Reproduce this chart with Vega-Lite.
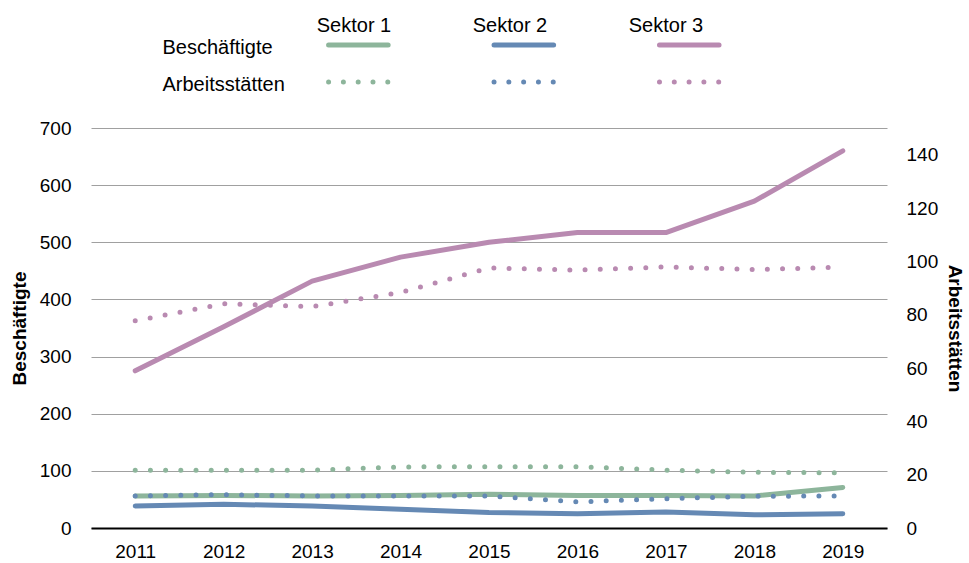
{
  "$schema": "https://vega.github.io/schema/vega-lite/v6.json",
  "padding": {"left": 10, "top": 14.5, "right": 0, "bottom": 1},
  "bounds": "flush",
  "spacing": 27.5,
  "config": {
    "font": "Liberation Sans",
    "view": {"stroke": null},
    "axis": {"labelFont": "Liberation Sans", "titleFont": "Liberation Sans", "labelColor": "#000000", "titleColor": "#000000", "labelFontSize": 19, "titleFontSize": 19}
  },
  "datasets": {
    "main": [
      {"year": "2011", "sektor": "Sektor 1", "measure": "Beschäftigte", "value": 56},
      {"year": "2012", "sektor": "Sektor 1", "measure": "Beschäftigte", "value": 57},
      {"year": "2013", "sektor": "Sektor 1", "measure": "Beschäftigte", "value": 56},
      {"year": "2014", "sektor": "Sektor 1", "measure": "Beschäftigte", "value": 57},
      {"year": "2015", "sektor": "Sektor 1", "measure": "Beschäftigte", "value": 59},
      {"year": "2016", "sektor": "Sektor 1", "measure": "Beschäftigte", "value": 57},
      {"year": "2017", "sektor": "Sektor 1", "measure": "Beschäftigte", "value": 57},
      {"year": "2018", "sektor": "Sektor 1", "measure": "Beschäftigte", "value": 56},
      {"year": "2019", "sektor": "Sektor 1", "measure": "Beschäftigte", "value": 71},
      {"year": "2011", "sektor": "Sektor 2", "measure": "Beschäftigte", "value": 38.5},
      {"year": "2012", "sektor": "Sektor 2", "measure": "Beschäftigte", "value": 41.5},
      {"year": "2013", "sektor": "Sektor 2", "measure": "Beschäftigte", "value": 38.5},
      {"year": "2014", "sektor": "Sektor 2", "measure": "Beschäftigte", "value": 33},
      {"year": "2015", "sektor": "Sektor 2", "measure": "Beschäftigte", "value": 27},
      {"year": "2016", "sektor": "Sektor 2", "measure": "Beschäftigte", "value": 25},
      {"year": "2017", "sektor": "Sektor 2", "measure": "Beschäftigte", "value": 28},
      {"year": "2018", "sektor": "Sektor 2", "measure": "Beschäftigte", "value": 23},
      {"year": "2019", "sektor": "Sektor 2", "measure": "Beschäftigte", "value": 25},
      {"year": "2011", "sektor": "Sektor 3", "measure": "Beschäftigte", "value": 275},
      {"year": "2012", "sektor": "Sektor 3", "measure": "Beschäftigte", "value": 352},
      {"year": "2013", "sektor": "Sektor 3", "measure": "Beschäftigte", "value": 432},
      {"year": "2014", "sektor": "Sektor 3", "measure": "Beschäftigte", "value": 474},
      {"year": "2015", "sektor": "Sektor 3", "measure": "Beschäftigte", "value": 500},
      {"year": "2016", "sektor": "Sektor 3", "measure": "Beschäftigte", "value": 517},
      {"year": "2017", "sektor": "Sektor 3", "measure": "Beschäftigte", "value": 517},
      {"year": "2018", "sektor": "Sektor 3", "measure": "Beschäftigte", "value": 572},
      {"year": "2019", "sektor": "Sektor 3", "measure": "Beschäftigte", "value": 660},
      {"year": "2011", "sektor": "Sektor 1", "measure": "Arbeitsstätten", "value": 21.7},
      {"year": "2012", "sektor": "Sektor 1", "measure": "Arbeitsstätten", "value": 21.7},
      {"year": "2013", "sektor": "Sektor 1", "measure": "Arbeitsstätten", "value": 21.7},
      {"year": "2014", "sektor": "Sektor 1", "measure": "Arbeitsstätten", "value": 22.9},
      {"year": "2015", "sektor": "Sektor 1", "measure": "Arbeitsstätten", "value": 23},
      {"year": "2016", "sektor": "Sektor 1", "measure": "Arbeitsstätten", "value": 23},
      {"year": "2017", "sektor": "Sektor 1", "measure": "Arbeitsstätten", "value": 21.7},
      {"year": "2018", "sektor": "Sektor 1", "measure": "Arbeitsstätten", "value": 20.9},
      {"year": "2019", "sektor": "Sektor 1", "measure": "Arbeitsstätten", "value": 20.7},
      {"year": "2011", "sektor": "Sektor 2", "measure": "Arbeitsstätten", "value": 12},
      {"year": "2012", "sektor": "Sektor 2", "measure": "Arbeitsstätten", "value": 12.5},
      {"year": "2013", "sektor": "Sektor 2", "measure": "Arbeitsstätten", "value": 12},
      {"year": "2014", "sektor": "Sektor 2", "measure": "Arbeitsstätten", "value": 12},
      {"year": "2015", "sektor": "Sektor 2", "measure": "Arbeitsstätten", "value": 12},
      {"year": "2016", "sektor": "Sektor 2", "measure": "Arbeitsstätten", "value": 9.8},
      {"year": "2017", "sektor": "Sektor 2", "measure": "Arbeitsstätten", "value": 11},
      {"year": "2018", "sektor": "Sektor 2", "measure": "Arbeitsstätten", "value": 11.9},
      {"year": "2019", "sektor": "Sektor 2", "measure": "Arbeitsstätten", "value": 12},
      {"year": "2011", "sektor": "Sektor 3", "measure": "Arbeitsstätten", "value": 77.7},
      {"year": "2012", "sektor": "Sektor 3", "measure": "Arbeitsstätten", "value": 84.1},
      {"year": "2013", "sektor": "Sektor 3", "measure": "Arbeitsstätten", "value": 83},
      {"year": "2014", "sektor": "Sektor 3", "measure": "Arbeitsstätten", "value": 88.3},
      {"year": "2015", "sektor": "Sektor 3", "measure": "Arbeitsstätten", "value": 97.5},
      {"year": "2016", "sektor": "Sektor 3", "measure": "Arbeitsstätten", "value": 96.7},
      {"year": "2017", "sektor": "Sektor 3", "measure": "Arbeitsstätten", "value": 97.9},
      {"year": "2018", "sektor": "Sektor 3", "measure": "Arbeitsstätten", "value": 96.9},
      {"year": "2019", "sektor": "Sektor 3", "measure": "Arbeitsstätten", "value": 97.8}
    ],
    "legend": [
      {"sektor": "Sektor 1", "measure": "Beschäftigte"},
      {"sektor": "Sektor 2", "measure": "Beschäftigte"},
      {"sektor": "Sektor 3", "measure": "Beschäftigte"},
      {"sektor": "Sektor 1", "measure": "Arbeitsstätten"},
      {"sektor": "Sektor 2", "measure": "Arbeitsstätten"},
      {"sektor": "Sektor 3", "measure": "Arbeitsstätten"}
    ]
  },
  "vconcat": [
    {
      "width": 681,
      "height": 74,
      "data": {"name": "legend"},
      "layer": [
        {
          "transform": [{"filter": "datum.measure === 'Beschäftigte'"}],
          "mark": {"type": "rule", "strokeWidth": 5, "strokeCap": "round"},
          "encoding": {
            "x": {"field": "sektor", "type": "nominal", "bandPosition": 0.32, "scale": {"type": "band", "domain": ["Sektor 1", "Sektor 2", "Sektor 3"], "paddingInner": 0, "paddingOuter": 0.558, "align": 1}, "axis": null},
            "x2": {"field": "sektor", "bandPosition": 0.68},
            "y": {"field": "measure", "type": "nominal", "bandPosition": 0.5, "scale": {"type": "band", "domain": ["Beschäftigte", "Arbeitsstätten"], "paddingInner": 0, "paddingOuter": 0}, "axis": {"orient": "left", "offset": -71, "labelAlign": "left", "labelPadding": 0, "ticks": false, "tickSize": 0, "domain": false, "grid": false, "title": null, "labelOffset": 2.5, "labelFontSize": 20}},
            "color": {"field": "sektor", "type": "nominal", "scale": {"domain": ["Sektor 1", "Sektor 2", "Sektor 3"], "range": ["#8db59b", "#6589b4", "#b98ab1"]}, "legend": null}
          }
        },
        {
          "transform": [{"filter": "datum.measure === 'Arbeitsstätten'"}],
          "mark": {"type": "rule", "strokeWidth": 5, "strokeCap": "round", "strokeDash": [0, 14.8]},
          "encoding": {
            "x": {"field": "sektor", "type": "nominal", "bandPosition": 0.32, "scale": {"type": "band", "domain": ["Sektor 1", "Sektor 2", "Sektor 3"], "paddingInner": 0, "paddingOuter": 0.558, "align": 1}, "axis": null},
            "x2": {"field": "sektor", "bandPosition": 0.68},
            "y": {"field": "measure", "type": "nominal", "bandPosition": 0.5},
            "color": {"field": "sektor", "type": "nominal", "legend": null}
          }
        },
        {
          "transform": [{"filter": "datum.measure === 'Beschäftigte'"}],
          "mark": {"type": "point", "opacity": 0},
          "encoding": {
            "x": {"field": "sektor", "type": "nominal", "scale": {"type": "band", "domain": ["Sektor 1", "Sektor 2", "Sektor 3"], "paddingInner": 0, "paddingOuter": 0.6827, "align": 0.8685}, "axis": {"orient": "top", "labelAngle": 0, "labelBaseline": "middle", "labelPadding": 1.5, "ticks": false, "tickSize": 0, "domain": false, "grid": false, "title": null, "labelFontSize": 20}}
          }
        }
      ],
      "resolve": {"scale": {"x": "independent"}}
    },
    {
      "width": 796,
      "height": 400,
      "data": {"name": "main"},
      "encoding": {
        "x": {"field": "year", "type": "ordinal", "scale": {"type": "point", "padding": 0.5}, "axis": {"labelAngle": 0, "ticks": false, "tickSize": 0, "domain": true, "domainColor": "#000000", "domainWidth": 2, "grid": false, "title": null, "labelPadding": 14, "labelFontSize": 19}}
      },
      "layer": [
        {
          "transform": [{"filter": "datum.measure === 'Beschäftigte'"}],
          "mark": {"type": "line", "strokeWidth": 5, "strokeCap": "round", "strokeJoin": "round"},
          "encoding": {
            "y": {"field": "value", "type": "quantitative", "scale": {"domain": [0, 700]}, "axis": {"orient": "left", "values": [0, 100, 200, 300, 400, 500, 600, 700], "grid": true, "gridColor": "#a0a0a0", "gridWidth": 1, "domain": false, "ticks": false, "tickSize": 0, "labelPadding": 20, "title": "Beschäftigte", "titleFontWeight": "bold", "titlePadding": 10}},
            "color": {"field": "sektor", "type": "nominal", "scale": {"domain": ["Sektor 1", "Sektor 2", "Sektor 3"], "range": ["#8db59b", "#6589b4", "#b98ab1"]}, "legend": null}
          }
        },
        {
          "transform": [{"filter": "datum.measure === 'Arbeitsstätten'"}],
          "mark": {"type": "line", "strokeWidth": 5, "strokeCap": "round", "strokeJoin": "round", "strokeDash": [0, 15.2]},
          "encoding": {
            "y": {"field": "value", "type": "quantitative", "scale": {"domain": [0, 150]}, "axis": {"orient": "right", "values": [0, 20, 40, 60, 80, 100, 120, 140], "grid": false, "domain": false, "ticks": false, "tickSize": 0, "labelPadding": 19, "title": "Arbeitsstätten", "titleFontWeight": "bold", "titlePadding": 7}},
            "color": {"field": "sektor", "type": "nominal", "legend": null}
          }
        }
      ],
      "resolve": {"scale": {"y": "independent"}}
    }
  ]
}
